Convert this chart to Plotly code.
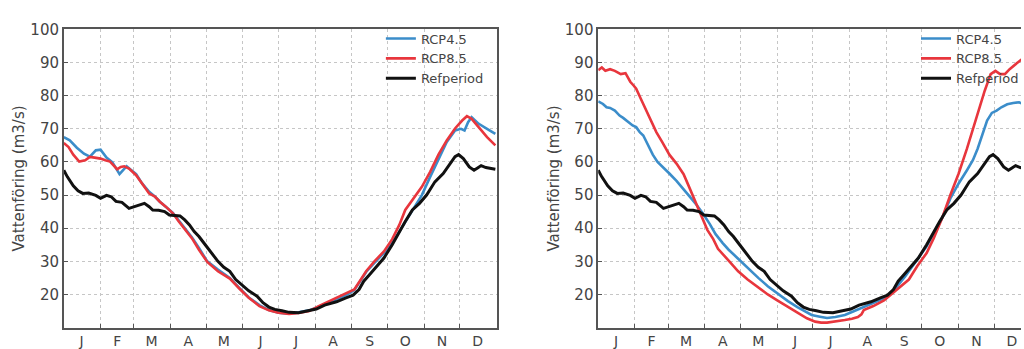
import plotly.graph_objects as go

# ---------------- data (day of year, discharge m3/s) ----------------
month_labels = ["J", "F", "M", "A", "M", "J", "J", "A", "S", "O", "N", "D"]
month_mid_days = [15, 45, 74, 105, 135, 166, 196, 227, 258, 288, 319, 349]
month_start_days = [31, 59, 90, 120, 151, 181, 212, 243, 273, 304, 334]
y_ticks = [20, 30, 40, 50, 60, 70, 80, 90, 100]

ref_days = [0, 3, 8, 12, 16, 21, 27, 31, 36, 40, 44, 49, 55, 60, 64, 68, 72, 75, 80, 85,
            89, 94, 98, 102, 106, 110, 114, 118, 123, 130, 135, 140, 145, 151, 156, 163,
            168, 173, 178, 184, 190, 198, 205, 213, 220, 230, 238, 244, 249, 253, 258,
            264, 270, 277, 283, 288, 294, 300, 306, 313, 320, 326, 330, 333, 337, 342,
            346, 349, 352, 356, 360, 364]
ref_vals = [57.5, 55.5, 52.8, 51.3, 50.5, 50.6, 49.9, 49.0, 49.9, 49.5, 48.1, 47.8, 46.0,
            46.5, 47.0, 47.5, 46.5, 45.5, 45.4, 45.0, 44.0, 43.9, 43.7, 42.5, 41.0, 39.0,
            37.5, 35.6, 33.3, 30.0, 28.2, 27.0, 24.5, 22.8, 21.1, 19.5, 17.5, 16.2, 15.5,
            15.1, 14.6, 14.5, 15.0, 15.6, 16.8, 17.8, 19.0, 19.8, 21.5, 24.0, 26.0, 28.5,
            31.0, 35.0, 39.0, 42.0, 45.5, 47.5, 50.0, 54.0, 56.5, 59.5, 61.6, 62.2, 61.0,
            58.5, 57.5, 58.2, 58.9, 58.3, 58.0, 57.8]

left45_days = [0, 5, 11, 17, 22, 27, 31, 36, 41, 47, 50, 53, 57, 61, 66, 72, 77, 81, 86,
               92, 97, 103, 108, 114, 121, 130, 140, 148, 156, 165, 173, 181, 190, 198,
               207, 215, 224, 232, 240, 245, 250, 255, 262, 270, 277, 283, 288, 295, 302,
               309, 316, 323, 330, 335, 338, 341, 344, 350, 357, 364]
left45_vals = [67.5, 66.5, 64.3, 62.5, 61.6, 63.5, 63.7, 61.3, 59.9, 56.3, 57.5, 58.7,
               57.5, 56.3, 53.5, 51.0, 49.5, 48.0, 46.5, 44.6, 42.3, 39.6, 37.3, 34.0,
               30.0, 27.5, 25.0, 22.0, 19.1, 16.8, 15.3, 14.5, 14.2, 14.6, 15.2, 16.3,
               17.5, 18.8, 20.2, 21.3, 24.0, 26.8, 29.5, 32.5, 35.5, 39.0, 42.0, 46.0,
               50.0, 55.5, 60.5, 66.0, 69.5, 70.0, 69.5, 72.0, 73.5, 71.5, 70.0, 68.5]

left85_days = [0, 4, 8, 13, 18, 22, 26, 31, 35, 39, 45, 48, 51, 55, 61, 66, 72, 77, 81,
               86, 92, 97, 103, 108, 114, 121, 130, 140, 148, 156, 165, 173, 181, 190,
               198, 207, 215, 224, 232, 240, 245, 250, 255, 262, 270, 277, 283, 288, 295,
               302, 309, 316, 323, 330, 336, 340, 344, 350, 357, 364]
left85_vals = [65.7, 64.5, 62.2, 60.1, 60.5, 61.5, 61.3, 61.0, 60.5, 60.1, 57.8, 58.5,
               58.7, 58.0, 56.0, 53.5, 50.5, 49.5, 48.0, 46.5, 44.5, 42.0, 39.3, 37.0,
               33.5, 29.8, 27.0, 24.8, 21.8, 19.0, 16.5, 15.2, 14.5, 14.1, 14.4, 15.0,
               16.5, 18.0, 19.2, 20.5, 21.5, 24.2, 27.0, 30.0, 33.0, 36.7, 41.0, 45.5,
               49.0, 52.5, 57.0, 62.2, 66.5, 70.1, 72.5, 73.8, 73.0, 70.5, 67.5, 65.0]

right45_days = [0, 4, 7, 10, 14, 18, 21, 25, 29, 32, 35, 38, 42, 46, 50, 55, 60, 66, 71,
                77, 83, 88, 94, 99, 105, 110, 118, 126, 135, 143, 151, 160, 168, 175,
                180, 187, 193, 200, 208, 216, 224, 232, 241, 250, 259, 269, 277, 283,
                290, 297, 304, 311, 316, 320, 324, 328, 332, 336, 340, 345, 350, 355,
                358, 361, 364]
right45_vals = [78.3, 77.5, 76.5, 76.3, 75.5, 74.0, 73.3, 72.0, 71.0, 70.5, 69.0, 68.0,
                65.0, 62.2, 60.0, 58.4, 56.5, 54.3, 52.0, 49.6, 47.0, 44.6, 41.3, 38.2,
                35.5, 33.5, 30.8, 28.0, 25.0, 22.5, 20.3, 18.0, 16.2, 14.8, 13.8, 13.3,
                12.9, 13.2, 13.8, 15.0, 16.2, 17.5, 18.8, 21.5, 25.5, 30.5, 34.5, 38.5,
                43.0, 49.0, 53.5, 57.5, 60.5, 64.0, 68.5, 72.5, 74.8, 75.5, 76.5, 77.4,
                77.8, 78.0, 77.5, 76.5, 76.0]

right85_days = [0, 3, 6, 10, 14, 19, 23, 27, 30, 32, 36, 40, 45, 49, 54, 60, 66, 72, 76,
                80, 84, 88, 92, 97, 101, 110, 118, 126, 135, 143, 151, 160, 168, 176,
                183, 188, 193, 200, 208, 214, 219, 222, 224, 232, 241, 248, 255, 262,
                269, 277, 283, 290, 297, 304, 311, 316, 322, 326, 331, 335, 339, 343,
                347, 352, 356, 360, 364]
right85_vals = [87.7, 88.5, 87.5, 88.0, 87.5, 86.5, 86.8, 84.2, 83.0, 82.1, 79.0, 76.0,
                72.5, 69.0, 66.0, 62.2, 59.5, 56.3, 53.0, 49.6, 46.0, 42.6, 39.5, 36.7,
                33.8, 30.2, 27.0, 24.5, 22.0, 20.0, 18.2, 16.2, 14.4, 12.8, 11.8, 11.5,
                11.5, 11.8, 12.3, 12.7, 13.2, 14.0, 15.3, 16.5, 18.2, 20.3, 22.5, 24.5,
                28.5, 32.5, 37.0, 43.0, 50.0, 56.5, 64.0, 70.0, 77.0, 81.5, 86.5, 87.5,
                86.5, 86.5, 88.0, 89.5, 90.6, 92.0, 93.0]

names = ["RCP4.5", "RCP8.5", "Refperiod"]
colors = ["#3b8dca", "#e8363d", "#111111"]

# ---------------- figure ----------------
W, H = 1024, 349
fig = go.Figure()

panels = [
    ("x", "y", "legend", [(left45_days, left45_vals), (left85_days, left85_vals), (ref_days, ref_vals)]),
    ("x2", "y2", "legend2", [(right45_days, right45_vals), (right85_days, right85_vals), (ref_days, ref_vals)]),
]
for xa, ya, lg, series in panels:
    for (d, v), nm, c in zip(series, names, colors):
        fig.add_trace(go.Scatter(
            x=d, y=v, mode="lines", name=nm, xaxis=xa, yaxis=ya, legend=lg,
            line=dict(color=c, width=3 if nm == "Refperiod" else 2.6),
            hoverinfo="skip"))

frame = "#555555"
grid = "#c6c6c6"
tickfont = dict(family="DejaVu Sans", size=15, color="#444444")

def xaxis_cfg(domain, rng):
    return dict(domain=domain, range=rng, tickmode="array", tickvals=month_mid_days,
                ticktext=month_labels, ticks="", showgrid=False, zeroline=False,
                showline=True, linecolor=frame, linewidth=1.6, mirror=True,
                tickfont=dict(family="DejaVu Sans", size=14, color="#444444"),
                minor=dict(tickmode="array", tickvals=month_start_days, showgrid=True,
                           gridcolor=grid, griddash="dot", gridwidth=1,
                           ticks="inside", ticklen=4, tickcolor=frame))

def yaxis_cfg(anchor, mirror):
    return dict(domain=[1 - 328 / H, 1 - 21 / H], range=[10, 100], anchor=anchor,
                tickmode="array", tickvals=y_ticks, ticks="inside", ticklen=4,
                tickcolor=frame, showgrid=True, gridcolor=grid, griddash="dot",
                gridwidth=1, zeroline=False, showline=True, linecolor=frame,
                linewidth=1.6, mirror=mirror, tickfont=tickfont,
                title=dict(text="Vattenföring (m3/s)", standoff=2,
                           font=dict(family="DejaVu Sans", size=15, color="#444444")))

x1_dom = [64 / W, 498 / W]
x2_dom = [600 / W, 1.0]
px_per_day = (498 - 64) / 365.0
x2_max = (W - 600) / px_per_day

legend_font = dict(family="DejaVu Sans", size=13, color="#444444")
fig.update_layout(
    width=W, height=H, margin=dict(l=0, r=0, t=0, b=0),
    paper_bgcolor="white", plot_bgcolor="white",
    xaxis=xaxis_cfg(x1_dom, [0, 365]),
    yaxis=yaxis_cfg("x", True),
    xaxis2=dict(xaxis_cfg(x2_dom, [0, x2_max]), anchor="y2"),
    yaxis2=yaxis_cfg("x2", False),
    legend=dict(x=382 / W, y=1 - 15 / H, xanchor="left", yanchor="top",
                bgcolor="rgba(0,0,0,0)", borderwidth=0, itemwidth=30,
                font=legend_font, tracegroupgap=0),
    legend2=dict(x=919 / W, y=1 - 15 / H, xanchor="left", yanchor="top",
                 bgcolor="rgba(0,0,0,0)", borderwidth=0, itemwidth=30,
                 font=legend_font, tracegroupgap=0),
    showlegend=True,
)

fig.write_html("out.html", config={"displayModeBar": False},
               post_script="document.body.style.margin='0';document.body.style.overflow='hidden';")
